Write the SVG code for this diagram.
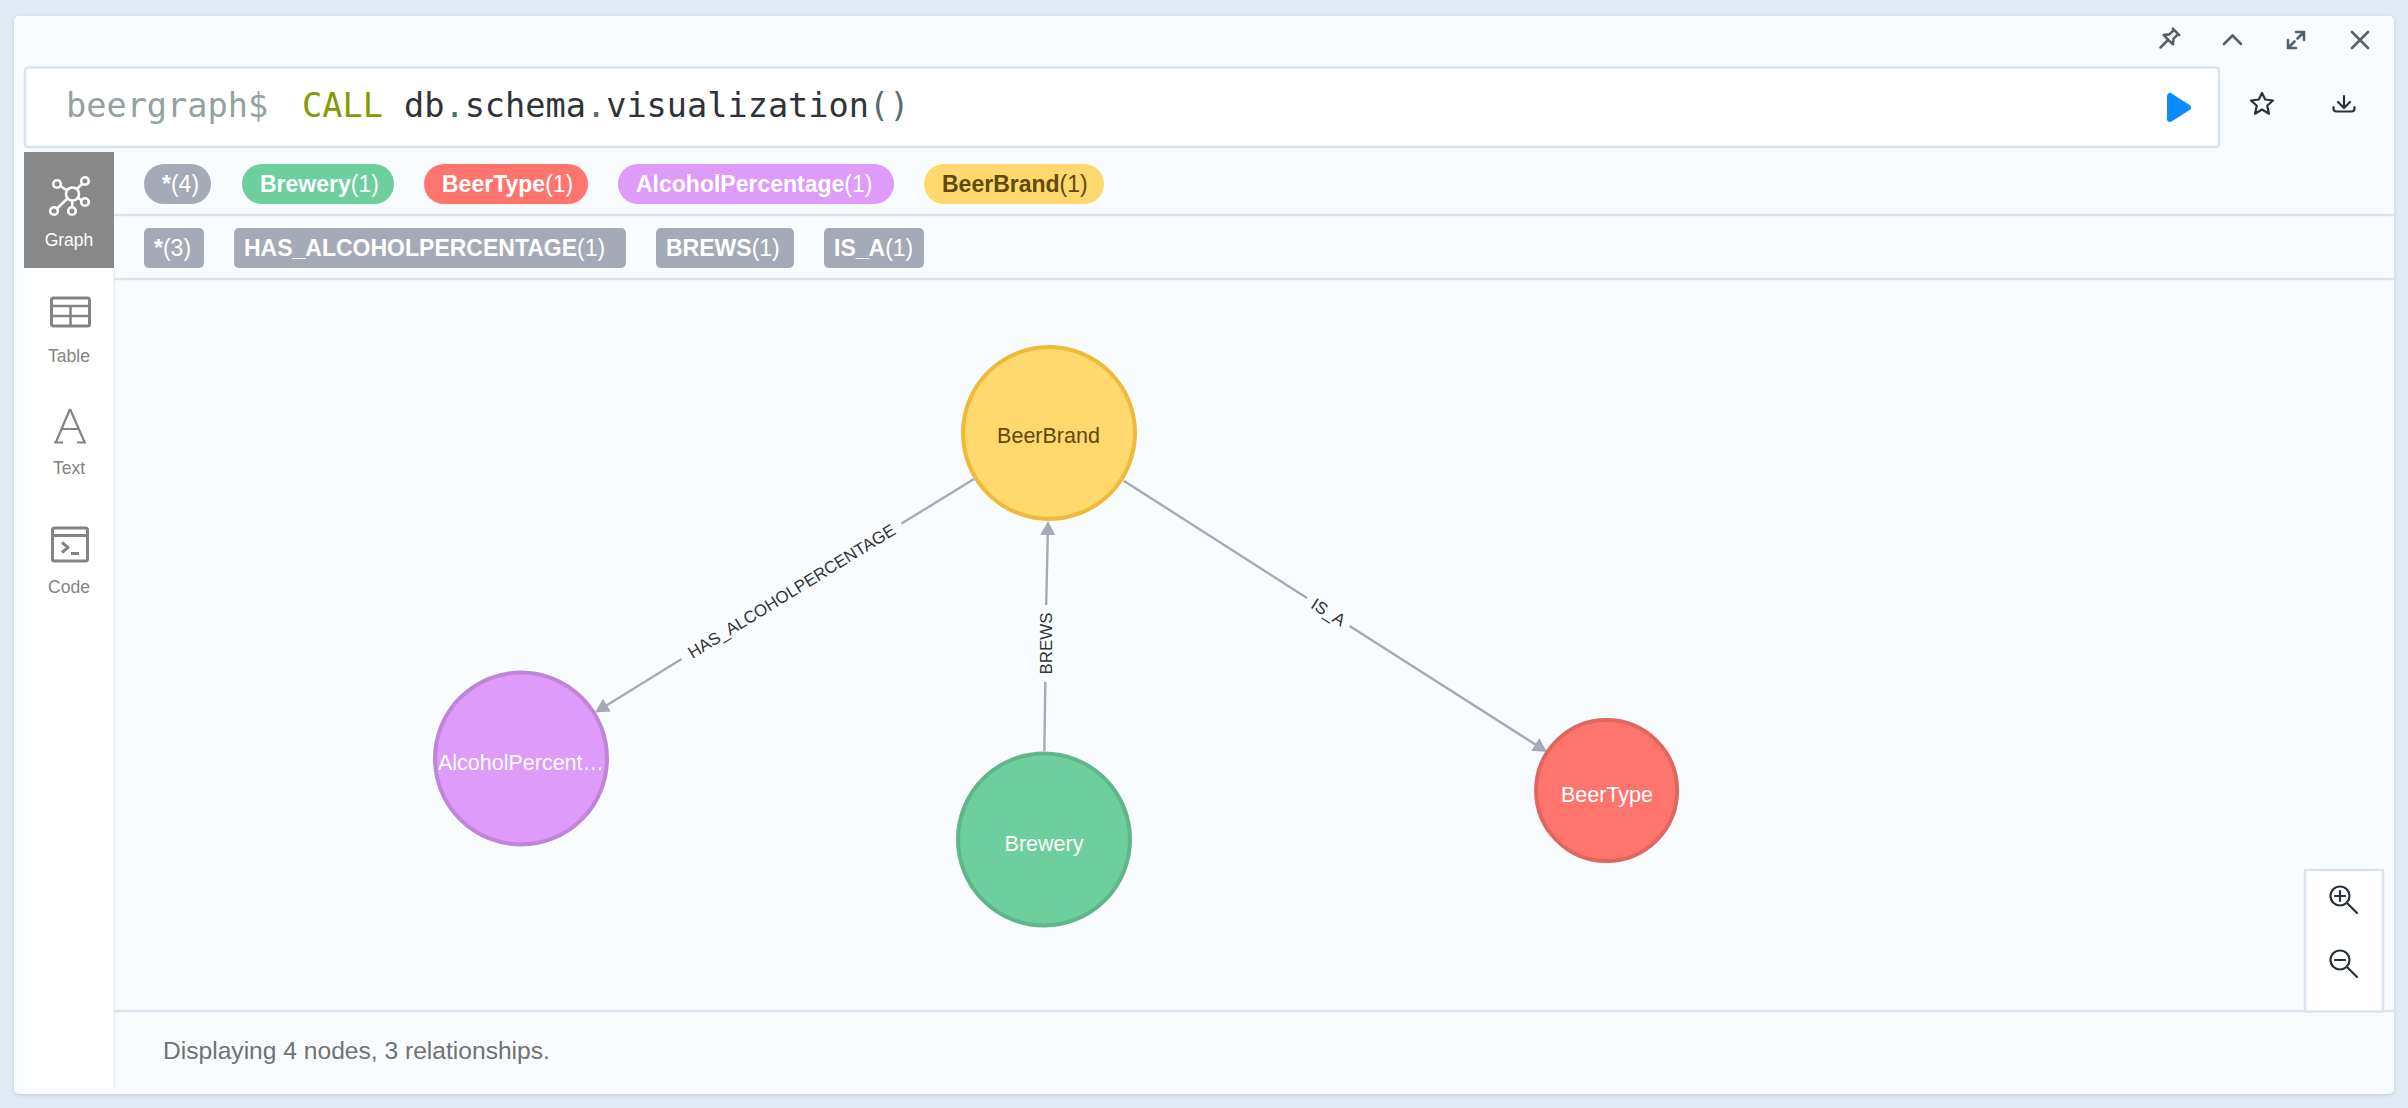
<svg xmlns="http://www.w3.org/2000/svg" width="2408" height="1108" viewBox="0 0 2408 1108">
<style>
text{font-family:"Liberation Sans",Arial,sans-serif}
.sep{stroke:#dae4f0;stroke-width:2.5;fill:none}
.pt{font-size:23px;fill:#fff;font-weight:700}
.pt tspan{font-weight:400}
.side{font-size:17.5px;fill:#848484;text-anchor:middle}
.ico{fill:none;stroke:#53616e;stroke-width:2.6;stroke-linecap:round;stroke-linejoin:round}
.dk{fill:none;stroke:#26323d;stroke-width:2.2;stroke-linecap:round;stroke-linejoin:round}
.si{fill:none;stroke:#848484;stroke-width:3;stroke-linejoin:round}
.nl{font-size:21.5px;fill:#fff;text-anchor:middle}
.el{font-size:16.9px;fill:#333;text-anchor:middle}
.edge{fill:none;stroke:#a5abb6;stroke-width:2.4;marker-end:url(#ah)}
.code{font-family:"DejaVu Sans Mono","Liberation Mono",monospace;font-size:33.6px}
</style>
<defs>
<marker id="ah" markerUnits="userSpaceOnUse" markerWidth="16" markerHeight="16" refX="2" refY="8" orient="auto" viewBox="0 0 16 16"><path d="M0,0.5 L14,8 L0,15.500Z" fill="#a5abb6"/></marker>
<filter id="sh" x="-2%" y="-2%" width="104%" height="106%"><feDropShadow dx="0" dy="1" stdDeviation="2" flood-color="#8fa3b8" flood-opacity=".45"/></filter>
</defs>
<rect width="2408" height="1108" fill="#e1ebf5"/>
<rect x="14" y="16" width="2380" height="1078" rx="5" fill="#f9fcff" filter="url(#sh)"/>

<g id="window-controls">
<g class="ico" transform="translate(2169 39) rotate(45)"><path d="M-4.500,-10 H4.500 M-3,-10 V-3.500 L-6.500,1 H6.500 L3,-3.500 V-10 M0,1 V12"/></g>
<path class="ico" d="M2224,44 L2232.500,35.500 L2241,44"/>
<path class="ico" d="M2296,32 H2304 V40 M2304,32 L2297.500,38.500 M2288,40 V48 H2296 M2288,48 L2294.500,41.500"/>
<path class="ico" d="M2352,32 L2368,48 M2368,32 L2352,48"/>
</g>

<g id="editor">
<rect x="25" y="67.500" width="2194" height="79.500" rx="3" fill="#fff" stroke="#dae4f0" stroke-width="2.500"/>
<text class="code" x="66" y="117" fill="#93a1a1">beergraph$</text>
<text class="code" x="302" y="117" fill="#859900">CALL</text>
<text class="code" x="404" y="117" fill="#2f3338">db<tspan fill="#586e75">.</tspan>schema<tspan fill="#586e75">.</tspan>visualization<tspan fill="#586e75">()</tspan></text>
<path d="M2170,96 V119 L2188,107.500Z" fill="#0a8cff" stroke="#0a8cff" stroke-width="6" stroke-linejoin="round"/>
<path class="dk" d="M2262,93 L2265.200,99.500 L2273,100.500 L2267.200,105.700 L2269,113.700 L2262,109.500 L2255,113.700 L2256.800,105.700 L2251,100.500 L2258.800,99.500Z"/>
<path class="dk" d="M2344,96 V108 M2338,102 L2344,108 L2350,102 M2333.500,107 V108.500 Q2333.500,111.500 2336.500,111.500 H2351.500 Q2354.500,111.500 2354.500,108.500 V107"/>
</g>

<g id="sidebar">
<rect x="24" y="268" width="90" height="820" rx="2" fill="#fff"/>
<path d="M114.500,268 V1088" stroke="#e6edf5" stroke-width="1.500"/>
<rect x="24" y="152" width="90" height="116" fill="#888"/>
<g fill="none" stroke="#fff" stroke-width="2.600">
<circle cx="72.500" cy="194" r="6.500"/><circle cx="57" cy="184" r="3.800"/><circle cx="85" cy="181" r="3.800"/><circle cx="85" cy="202" r="3.800"/><circle cx="72" cy="211" r="3.800"/><circle cx="54" cy="211" r="3.800"/>
<path d="M60.500,186 L67,190.500 M82,184 L77,189 M81.500,200.500 L78.500,198 M72.200,207 V200.500 M57,208.500 L67.500,198.500"/>
</g>
<text class="side" x="69" y="246" style="fill:#fff">Graph</text>
<g class="si"><rect x="51.500" y="298" width="38" height="28" rx="2"/><path d="M51.500,306 H89.500 M51.500,316 H89.500 M70.500,306 V326" stroke-width="2.500"/></g>
<text class="side" x="69" y="362">Table</text>
<path d="M70,409 L56,442 M70,409 L84.500,442 M61,429 H79 M54,442.500 H63 M77,442.500 H86" fill="none" stroke="#848484" stroke-width="2.200"/>
<text class="side" x="69" y="474">Text</text>
<g class="si" stroke-width="2.500"><rect x="52.500" y="528" width="35" height="33" rx="2"/><path d="M52.500,535.500 H87.500 M62,542.500 L68,547.500 L62,552.500 M71,553.500 H79"/></g>
<text class="side" x="69" y="593">Code</text>
</g>

<g id="legend">
<path class="sep" d="M114,215 H2394 M114,279 H2394 M114,1011 H2394"/>
<g id="pill-all-nodes"><rect x="144" y="164" width="67" height="40" rx="20" fill="#a5abb6"/><text class="pt" x="162" y="192">*<tspan>(4)</tspan></text></g>
<g id="pill-brewery"><rect x="242" y="164" width="152" height="40" rx="20" fill="#6dce9e"/><text class="pt" x="260" y="192">Brewery<tspan>(1)</tspan></text></g>
<g id="pill-beertype"><rect x="424" y="164" width="164" height="40" rx="20" fill="#ff756e"/><text class="pt" x="442" y="192">BeerType<tspan>(1)</tspan></text></g>
<g id="pill-alcohol"><rect x="618" y="164" width="276" height="40" rx="20" fill="#de9bf9"/><text class="pt" x="636" y="192">AlcoholPercentage<tspan>(1)</tspan></text></g>
<g id="pill-beerbrand"><rect x="924" y="164" width="180" height="40" rx="20" fill="#ffd86e"/><text class="pt" x="942" y="192" style="fill:#604a0e">BeerBrand<tspan>(1)</tspan></text></g>
<g id="pill-all-rels"><rect x="144" y="228" width="60" height="40" rx="5" fill="#a5abb6"/><text class="pt" x="154" y="256">*<tspan>(3)</tspan></text></g>
<g id="pill-has"><rect x="234" y="228" width="392" height="40" rx="5" fill="#a5abb6"/><text class="pt" x="244" y="256">HAS_ALCOHOLPERCENTAGE<tspan>(1)</tspan></text></g>
<g id="pill-brews"><rect x="656" y="228" width="138" height="40" rx="5" fill="#a5abb6"/><text class="pt" x="666" y="256">BREWS<tspan>(1)</tspan></text></g>
<g id="pill-isa"><rect x="824" y="228" width="100" height="40" rx="5" fill="#a5abb6"/><text class="pt" x="834" y="256">IS_A<tspan>(1)</tspan></text></g>
</g>

<g id="connectors">
<path class="edge" d="M974,479 L901.500,523.600 M681.600,659 L605.200,706.200"/>
<text class="el" transform="translate(791.500 591) rotate(-31.600)" y="6">HAS_ALCOHOLPERCENTAGE</text>
<path class="edge" d="M1044.400,751 L1045.300,682 M1046.200,605 L1047.800,533"/>
<text class="el" transform="translate(1046 643.500) rotate(-90)" y="6">BREWS</text>
<path class="edge" d="M1123.700,480.700 L1307,598 M1349.600,626 L1536.900,745.500"/>
<text class="el" transform="translate(1328.500 612) rotate(32.600)" y="6">IS_A</text>
</g>

<g id="node-beerbrand"><circle cx="1049" cy="433" r="86" fill="#ffd86e" stroke="#edba39" stroke-width="4"/><text class="nl" x="1048.500" y="443" style="fill:#604a0e">BeerBrand</text></g>
<g id="node-alcohol"><circle cx="521" cy="758.500" r="86" fill="#de9bf9" stroke="#bf85d6" stroke-width="4"/><text class="nl" x="521" y="770">AlcoholPercent…</text></g>
<g id="node-brewery"><circle cx="1044" cy="839.500" r="86" fill="#6dce9e" stroke="#60b58b" stroke-width="4"/><text class="nl" x="1044" y="851">Brewery</text></g>
<g id="node-beertype"><circle cx="1606.600" cy="790.500" r="70.500" fill="#ff756e" stroke="#e06760" stroke-width="4"/><text class="nl" x="1607" y="801.500">BeerType</text></g>

<g id="zoom-controls">
<rect x="2305" y="870" width="78" height="141.500" fill="#fff" stroke="#dae4f0" stroke-width="2.500"/>
<g class="dk" stroke-width="2"><circle cx="2340" cy="896" r="9.500"/><path d="M2347,903 L2357,913 M2335,896 H2345 M2340,891 V901"/><circle cx="2340" cy="960" r="9.500"/><path d="M2347,967 L2357,977 M2335,960 H2345"/></g>
</g>

<text id="status" x="163" y="1059" font-size="24.600" fill="#717172">Displaying 4 nodes, 3 relationships.</text>
</svg>
